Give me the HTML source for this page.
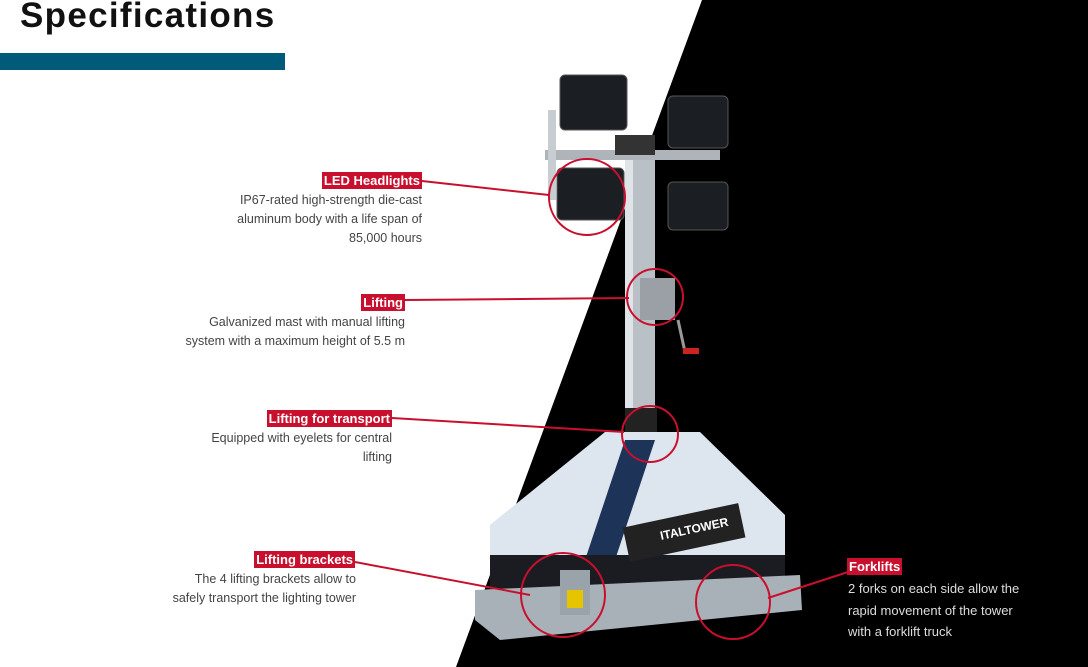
<!DOCTYPE html>
<html><head><meta charset="utf-8"><style>
body{margin:0;width:1088px;height:667px;overflow:hidden;background:#fff;font-family:"Liberation Sans",sans-serif}
.t{position:absolute;font-size:12.5px;color:#444;line-height:19px;text-align:right}
.l{position:absolute;background:#c8102e;color:#fff;font-weight:bold;font-size:13px;padding:0 2px;line-height:17px}
</style></head><body>
<svg width="1088" height="667" style="position:absolute;left:0;top:0">
<polygon points="702,0 1088,0 1088,667 456,667" fill="#000"/>
<rect x="0" y="53" width="285" height="17" fill="#005a7a"/>
<rect x="625" y="150" width="30" height="280" fill="#b9c0c6"/>
<rect x="625" y="150" width="8" height="280" fill="#dfe4e8"/>
<rect x="545" y="150" width="175" height="10" fill="#aeb4ba"/>
<rect x="548" y="110" width="8" height="90" fill="#c8cdd2"/>
<rect x="615" y="135" width="40" height="20" fill="#333"/>
<rect x="560" y="75" width="67" height="55" rx="5" fill="#1b1f24" stroke="#555"/>
<rect x="668" y="96" width="60" height="52" rx="5" fill="#1b1f24" stroke="#555"/>
<rect x="557" y="168" width="67" height="52" rx="5" fill="#1b1f24" stroke="#555"/>
<rect x="668" y="182" width="60" height="48" rx="5" fill="#1b1f24" stroke="#555"/>
<rect x="640" y="278" width="35" height="42" fill="#9aa0a6"/>
<line x1="678" y1="320" x2="685" y2="352" stroke="#999" stroke-width="3"/>
<rect x="683" y="348" width="16" height="6" fill="#c22"/>
<rect x="625" y="408" width="32" height="30" fill="#222"/>
<polygon points="605,432 700,432 785,515 785,555 490,555 490,525" fill="#dde5ee"/>
<polygon points="625,440 655,440 615,560 585,560" fill="#1d3358"/>
<rect x="490" y="555" width="295" height="35" fill="#1a1c22"/>
<polygon points="475,590 800,575 802,610 500,640 475,620" fill="#a9b1b8"/>
<rect x="625" y="515" width="118" height="35" fill="#222" transform="rotate(-12 684 532)"/>
<text x="660" y="535" fill="#fff" font-size="12" font-weight="bold" transform="rotate(-12 684 532)">ITALTOWER</text>
<rect x="560" y="570" width="30" height="45" fill="#9aa2aa"/>
<rect x="567" y="590" width="16" height="18" fill="#e6c400"/>
<g stroke="#c8102e" stroke-width="2" fill="none">
<line x1="422" y1="181" x2="549" y2="195"/><circle cx="587" cy="197" r="38"/>
<line x1="405" y1="300" x2="629" y2="298"/><circle cx="655" cy="297" r="28"/>
<line x1="392" y1="418" x2="624" y2="432"/><circle cx="650" cy="434" r="28"/>
<line x1="355" y1="562" x2="530" y2="595"/><circle cx="563" cy="595" r="42"/>
<line x1="848" y1="572" x2="768" y2="598"/><circle cx="733" cy="602" r="37"/>
</g>
</svg>
<div style="position:absolute;left:20px;top:-4px;font-size:35px;font-weight:bold;color:#111;letter-spacing:1.3px">Specifications</div>
<div class="l" style="right:666px;top:172px">LED Headlights</div>
<div class="t" style="right:666px;top:191px">IP67-rated high-strength die-cast<br>aluminum body with a life span of<br>85,000 hours</div>
<div class="l" style="right:683px;top:294px">Lifting</div>
<div class="t" style="right:683px;top:313px">Galvanized mast with manual lifting<br>system with a maximum height of 5.5 m</div>
<div class="l" style="right:696px;top:410px">Lifting for transport</div>
<div class="t" style="right:696px;top:429px">Equipped with eyelets for central<br>lifting</div>
<div class="l" style="right:733px;top:551px">Lifting brackets</div>
<div class="t" style="right:732px;top:570px">The 4 lifting brackets allow to<br>safely transport the lighting tower</div>
<div class="l" style="left:847px;top:558px">Forklifts</div>
<div class="t" style="left:848px;top:578px;text-align:left;color:#ddd;font-size:13px;line-height:21.5px">2 forks on each side allow the<br>rapid movement of the tower<br>with a forklift truck</div>
</body></html>
